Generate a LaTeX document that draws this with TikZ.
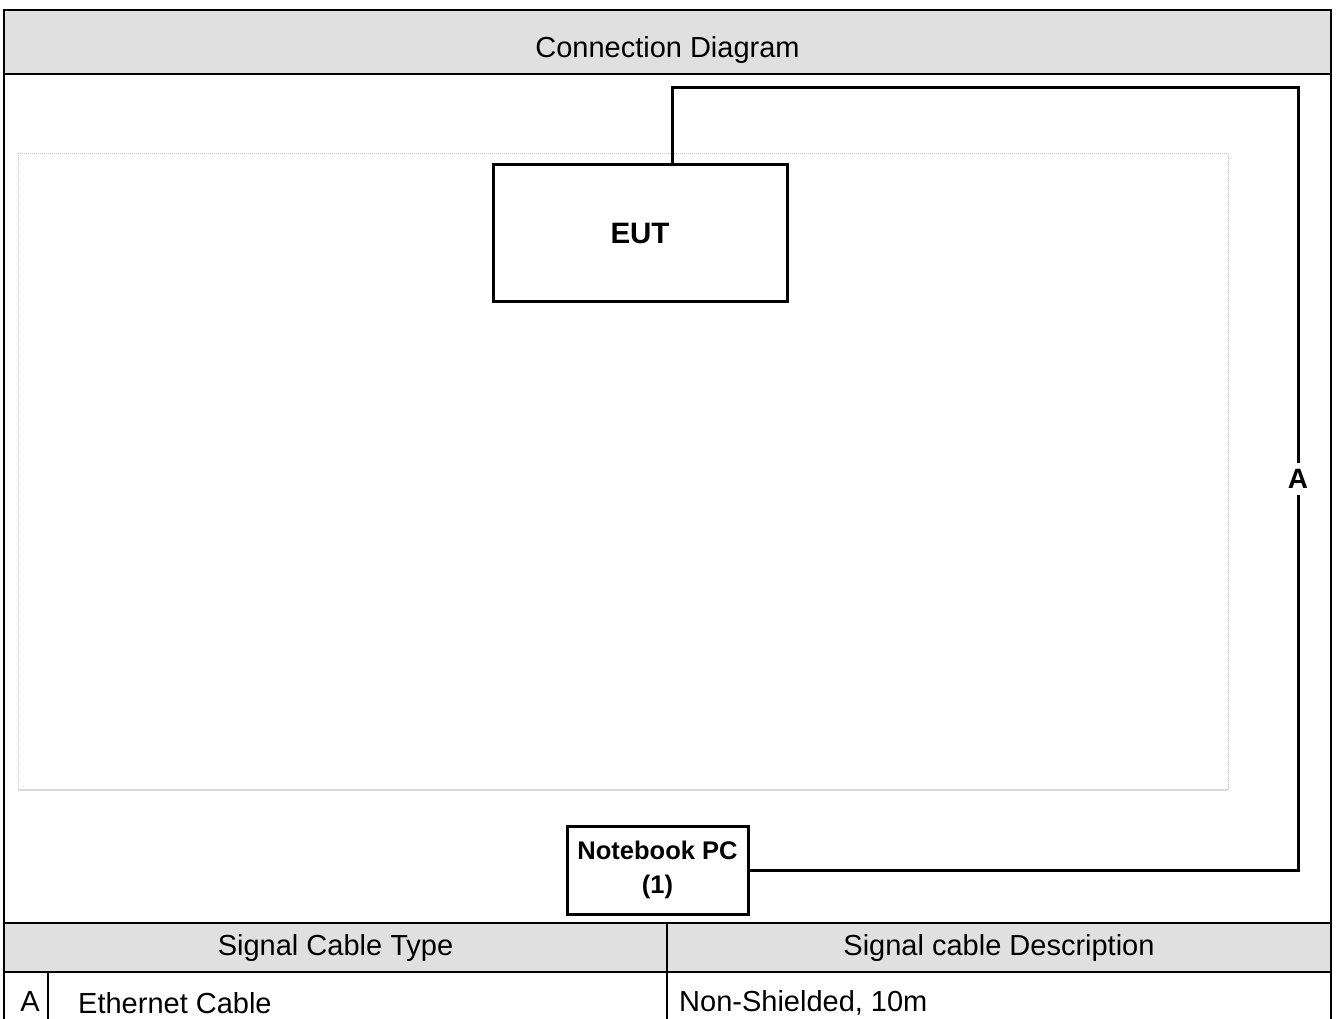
\documentclass[tikz,border=0pt]{standalone}
\usepackage{fontspec}
\setmainfont{Liberation Sans}
\usetikzlibrary{positioning}
\definecolor{headgray}{RGB}{224,224,224}
\definecolor{areagray}{RGB}{200,200,200}
\tikzset{
    frameline/.style={line width=2.5pt},
    gridline/.style={line width=2pt},
    devbox/.style={draw,line width=3pt,inner sep=0pt,font=\bfseries},
    cable/.style={line width=3pt},
    celltext/.style={inner sep=0pt,font=\fontsize{29}{33}\selectfont},
}

\begin{document}
\begin{tikzpicture}[x=1pt,y=-1pt]
    \useasboundingbox (0,0) rectangle (1338,1019);

    % header and table frame
    \fill[headgray] (4,10) rectangle (1331,74);
    \fill[headgray] (4,923) rectangle (1331,972);
    \draw[frameline] (4,1019) -- (4,10) -- (1331,10) -- (1331,1019);
    \draw[gridline] (4,74) -- (1331,74);
    \draw[gridline] (4,923) -- (1331,923);
    \draw[gridline] (4,972) -- (1331,972);
    \draw[gridline] (667,923) -- (667,1019);
    \draw[gridline] (48,972) -- (48,1019);

    \node[celltext] (title) at (667.5,50) {Connection Diagram};

    % test area
    \draw[areagray,densely dotted,line width=1pt] (18,790) -- (18,154) -- (1228,154) -- (1228,790);
    \draw[areagray!70,line width=1.5pt] (18,790) -- (1228,790);

    \node[devbox,minimum width=294pt,minimum height=136pt,
        font=\fontsize{29.5}{34}\selectfont\bfseries] (eut) at (640,233) {EUT};
    \node[devbox,minimum width=181pt,minimum height=88pt,align=center,
        font=\fontsize{25.5}{34}\selectfont\bfseries] (pc) at (657.5,870) {Notebook PC\\(1)};

    \coordinate (bend) at (1298,88);
    \draw[cable] ([xshift=32pt]eut.north) |- (bend) -- (bend |- pc.east) -- (pc.east);
    \node[fill=white,inner xsep=4pt,inner ysep=6pt,
        font=\fontsize{28}{32}\selectfont\bfseries] (lblA) at (1298,479) {A};

    % cable table
    \node[celltext] (typehead) at (335.5,948) {Signal Cable Type};
    \node[celltext] (deschead) at (999,948) {Signal cable Description};
    \node[celltext] (rowA) at (30,1002) {A};
    \node[celltext,anchor=west] (typeA) at (78,1003) {Ethernet Cable};
    \node[celltext,anchor=west] (descA) at (679,1003) {Non-Shielded, 10m};
\end{tikzpicture}
\end{document}
